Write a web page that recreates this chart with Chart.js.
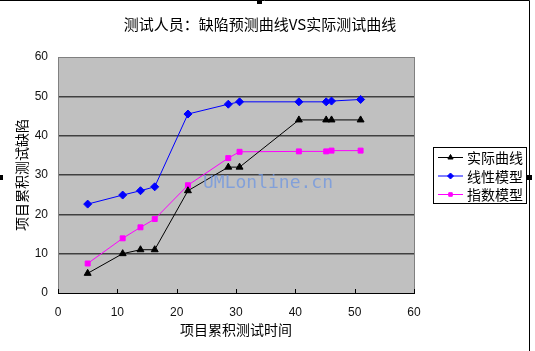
<!DOCTYPE html>
<html>
<head>
<meta charset="utf-8">
<script src="https://cdn.jsdelivr.net/npm/chart.js@4"></script>
<style>
  html, body { margin: 0; padding: 0; background: #fff; }
  #wrap { width: 535px; height: 351px; position: relative; }
</style>
</head>
<body>
<div id="wrap"><canvas id="defectChart" width="535" height="351"></canvas></div>
<script>
// values
const testTime = [5, 10.9, 13.9, 16.3, 21.9, 28.7, 30.6, 40.6, 45.2, 46.1, 51];
const actualDefects = [5, 10, 11, 11, 26, 32, 32, 44, 44, 44, 44];
const linearModel = [22.6, 24.9, 26, 27, 45.5, 48, 48.6, 48.6, 48.6, 48.8, 49.2];
const expModel = [7.5, 13.9, 16.7, 18.8, 27.4, 34.3, 35.9, 36, 36, 36.2, 36.2];
const seriesNames = ['实际曲线', '线性模型', '指数模型'];
const xTicks = [0, 10, 20, 30, 40, 50, 60];
const yTicks = [0, 10, 20, 30, 40, 50, 60];

const cjk = '"Noto Sans CJK SC", "Noto Sans", sans-serif';
const toPoints = ys => testTime.map((x, i) => ({ x: x, y: ys[i] }));

const seriesStyle = [
    { color: '#000000', shape: 'triangle', r: 4 },
    { color: '#0000ff', shape: 'rectRot', r: 4 },
    { color: '#ff00ff', shape: 'rect', r: 3.5 }
];

// frame, plot background, inner ticks, title, watermark, legend
const decor = {
    id: 'decor',
    beforeDraw(chart) {
        const { ctx, chartArea: a } = chart;
        ctx.save();
        ctx.fillStyle = '#c0c0c0';
        ctx.fillRect(a.left, a.top, a.right - a.left, a.bottom - a.top);
        ctx.restore();
    },
    afterDatasetsDraw(chart) {
        const { ctx, chartArea: a, scales } = chart;
        ctx.save();
        // plot border
        ctx.strokeStyle = '#808080';
        ctx.lineWidth = 1;
        ctx.strokeRect(a.left + 0.5, a.top + 0.5, a.right - a.left, a.bottom - a.top);
        // bottom axis + ticks pointing up
        ctx.strokeStyle = '#000';
        ctx.beginPath();
        ctx.moveTo(a.left, a.bottom + 0.5);
        ctx.lineTo(a.right + 1, a.bottom + 0.5);
        xTicks.forEach(v => {
            const px = Math.round(scales.x.getPixelForValue(v)) + 0.5;
            ctx.moveTo(px, a.bottom);
            ctx.lineTo(px, a.bottom - 4);
        });
        ctx.stroke();

        // watermark
        ctx.fillStyle = 'rgba(110,150,225,0.75)';
        ctx.font = '18px "DejaVu Sans Mono", monospace';
        ctx.textBaseline = 'alphabetic';
        ctx.fillText('UMLonline.cn', 203, 188);

        // title
        ctx.fillStyle = '#000';
        ctx.font = '15px ' + cjk;
        ctx.textAlign = 'center';
        ctx.textBaseline = 'middle';
        ctx.fillText('测试人员：缺陷预测曲线VS实际测试曲线', 260, 24);

        // outer frame + handles
        ctx.strokeStyle = '#000';
        ctx.beginPath();
        ctx.moveTo(0, 0.5); ctx.lineTo(529.5, 0.5); ctx.lineTo(529.5, 351);
        ctx.stroke();
        ctx.fillStyle = '#000';
        ctx.fillRect(257, 0, 5, 4);
        ctx.fillRect(0, 175, 3, 5);
        ctx.fillRect(527, 175, 5, 5);

        // legend
        ctx.fillStyle = '#fff';
        ctx.fillRect(433, 147, 93, 56);
        ctx.strokeStyle = '#000';
        ctx.strokeRect(433.5, 147.5, 93, 56);
        ctx.textAlign = 'left';
        ctx.font = '14px ' + cjk;
        seriesNames.forEach((name, i) => {
            const y = 157 + i * 18.5;
            const st = seriesStyle[i];
            ctx.strokeStyle = st.color;
            ctx.lineWidth = 1;
            ctx.beginPath();
            ctx.moveTo(438, y + 0.5);
            ctx.lineTo(463, y + 0.5);
            ctx.stroke();
            ctx.fillStyle = st.color;
            Chart.helpers.drawPoint(ctx, { pointStyle: st.shape, radius: st.r - 1, borderWidth: 1 }, 450.5, y + 0.5);
            ctx.fillStyle = '#000';
            ctx.fillText(name, 467, y + 1);
        });
        ctx.restore();
    }
};

const datasets = [actualDefects, linearModel, expModel].map((ys, i) => ({
    label: seriesNames[i],
    data: toPoints(ys),
    showLine: true,
    borderColor: seriesStyle[i].color,
    backgroundColor: seriesStyle[i].color,
    borderWidth: 1,
    pointStyle: seriesStyle[i].shape,
    pointRadius: seriesStyle[i].r,
    pointBorderWidth: 1,
    tension: 0
}));

new Chart(document.getElementById('defectChart'), {
    type: 'scatter',
    data: { datasets: datasets },
    options: {
        responsive: false,
        animation: false,
        events: [],
        layout: { padding: { left: 9, top: 57, right: 121, bottom: 9 } },
        plugins: { legend: { display: false }, tooltip: { enabled: false } },
        scales: {
            x: {
                type: 'linear', min: 0, max: 60,
                afterBuildTicks: s => { s.ticks = xTicks.map(v => ({ value: v })); },
                afterFit: s => { s.height = 49; },
                grid: { display: false },
                border: { display: false },
                ticks: { color: '#111', padding: 4, font: { size: 12, family: '"Liberation Sans", sans-serif' } },
                title: { display: true, text: '项目累积测试时间', color: '#000', padding: { top: 0 }, font: { size: 14, family: cjk } }
            },
            y: {
                type: 'linear', min: 0, max: 60,
                afterBuildTicks: s => { s.ticks = yTicks.map(v => ({ value: v })); },
                afterFit: s => { s.width = 49; },
                grid: {
                    color: c => (c.tick.value === 0 || c.tick.value === 60) ? 'rgba(0,0,0,0)' : '#404040',
                    lineWidth: 1.5,
                    drawTicks: false
                },
                border: { display: false },
                ticks: { color: '#111', padding: 10, font: { size: 12, family: '"Liberation Sans", sans-serif' } },
                title: { display: true, text: '项目累积测试缺陷', color: '#000', padding: { bottom: 2 }, font: { size: 14, family: cjk } }
            }
        }
    },
    plugins: [decor]
});
</script>
</body>
</html>
